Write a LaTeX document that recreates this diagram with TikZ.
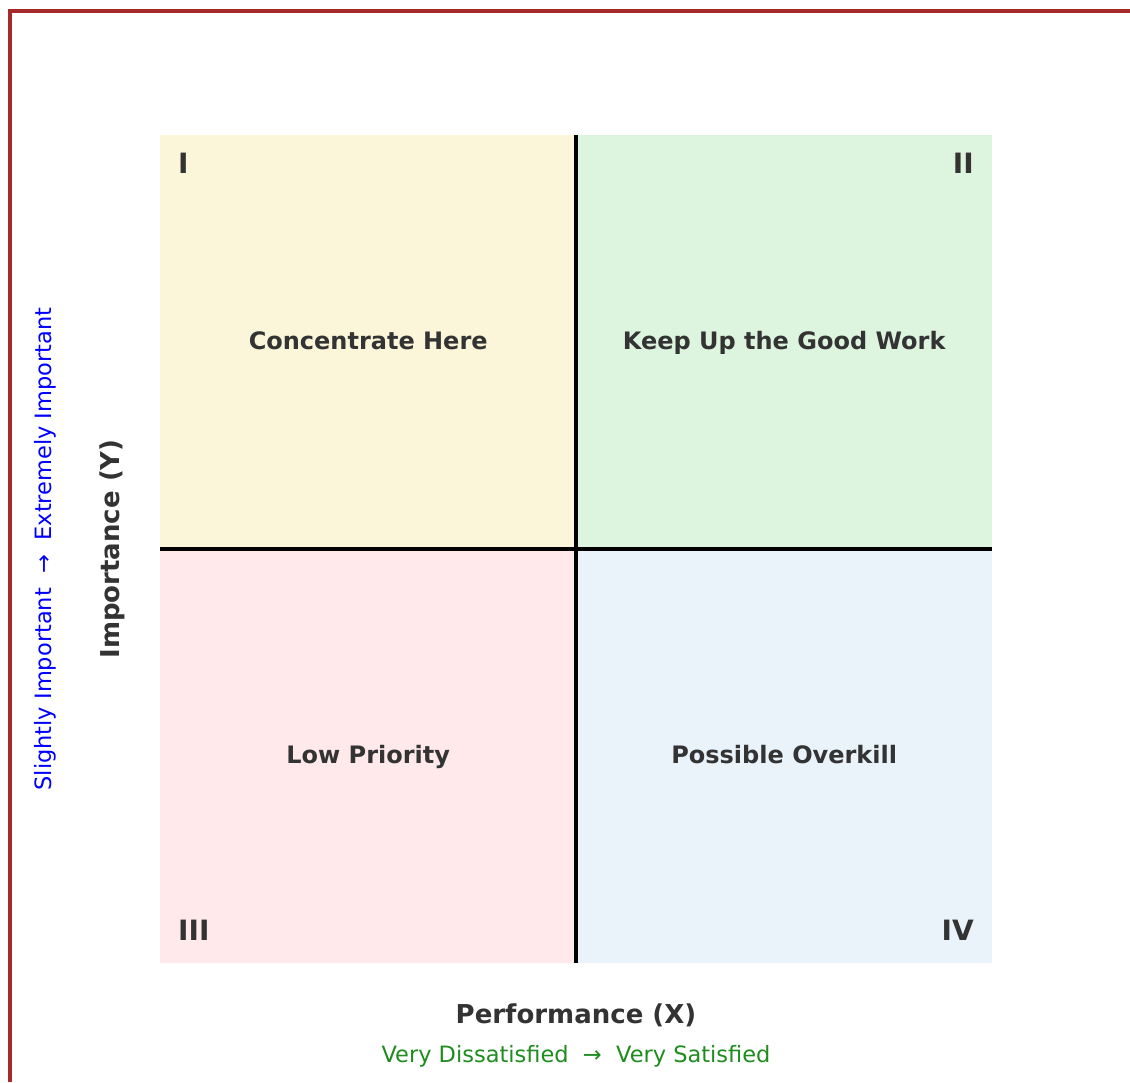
\documentclass[tikz,border=0pt]{standalone}
\usepackage{fontspec}
\setmainfont{DejaVu Sans}
\usetikzlibrary{positioning}

\definecolor{framered}{HTML}{A52A2A}
\definecolor{textgray}{HTML}{333333}
\definecolor{qyellow}{HTML}{FBF6D9}
\definecolor{qgreen}{HTML}{DDF5DE}
\definecolor{qpink}{HTML}{FFE9EA}
\definecolor{qblue}{HTML}{EAF2FA}
\definecolor{scalegreen}{HTML}{1E8C1E}

\begin{document}
\begin{tikzpicture}[x=1pt,y=-1pt,
	quad/.style={rectangle,inner sep=0pt,minimum width=416pt,minimum height=414pt,anchor=north west},
	quadlabel/.style={text=textgray,font=\fontsize{24}{28}\selectfont\bfseries,anchor=base,yshift=-7pt},
	numeral/.style={text=textgray,font=\fontsize{28}{32}\selectfont\bfseries,inner sep=0pt},
	axistitle/.style={text=textgray,font=\fontsize{26}{30}\selectfont\bfseries},
	scalelabel/.style={font=\fontsize{22.5}{26}\selectfont}
	]

	\useasboundingbox (0,0) rectangle (1130,1082);
	\draw[framered,line width=4pt] (9.5,1082) -- (9.5,10.5) -- (1130,10.5);

	% the four quadrants
	\node[quad,fill=qyellow] (q1) at (160,135) {};
	\node[quad,fill=qgreen] (q2) at (576,135) {};
	\node[quad,fill=qpink] (q3) at (160,549) {};
	\node[quad,fill=qblue] (q4) at (576,549) {};

	\node[quadlabel] (l1) at (q1.center) {Concentrate Here};
	\node[quadlabel] (l2) at (q2.center) {Keep Up the Good Work};
	\node[quadlabel] (l3) at (q3.center) {Low Priority};
	\node[quadlabel] (l4) at (q4.center) {Possible Overkill};

	\node[numeral,anchor=north west] (n1) at (178,153) {I};
	\node[numeral,anchor=north east] (n2) at (974,153) {II};
	\node[numeral,anchor=south west] (n3) at (178,941) {III};
	\node[numeral,anchor=south east] (n4) at (974,941) {IV};

	% axes through the middle
	\draw[line width=3.3pt] (q2.north west) -- (q4.south west);
	\draw[line width=3.3pt] (q3.north west) -- (q4.north east);

	% axis titles and scales
	\node[axistitle] (xtitle) at (576,1015) {Performance (X)};
	\node[scalelabel,text=scalegreen,below=12pt of xtitle] (xscale) {Very Dissatisfied \ → \ Very Satisfied};
	\node[axistitle,rotate=90] (ytitle) at (112,549) {Importance (Y)};
	\node[scalelabel,text=blue,rotate=90] (yscale) at (45,549) {Slightly Important \ → \ Extremely Important};

\end{tikzpicture}
\end{document}
